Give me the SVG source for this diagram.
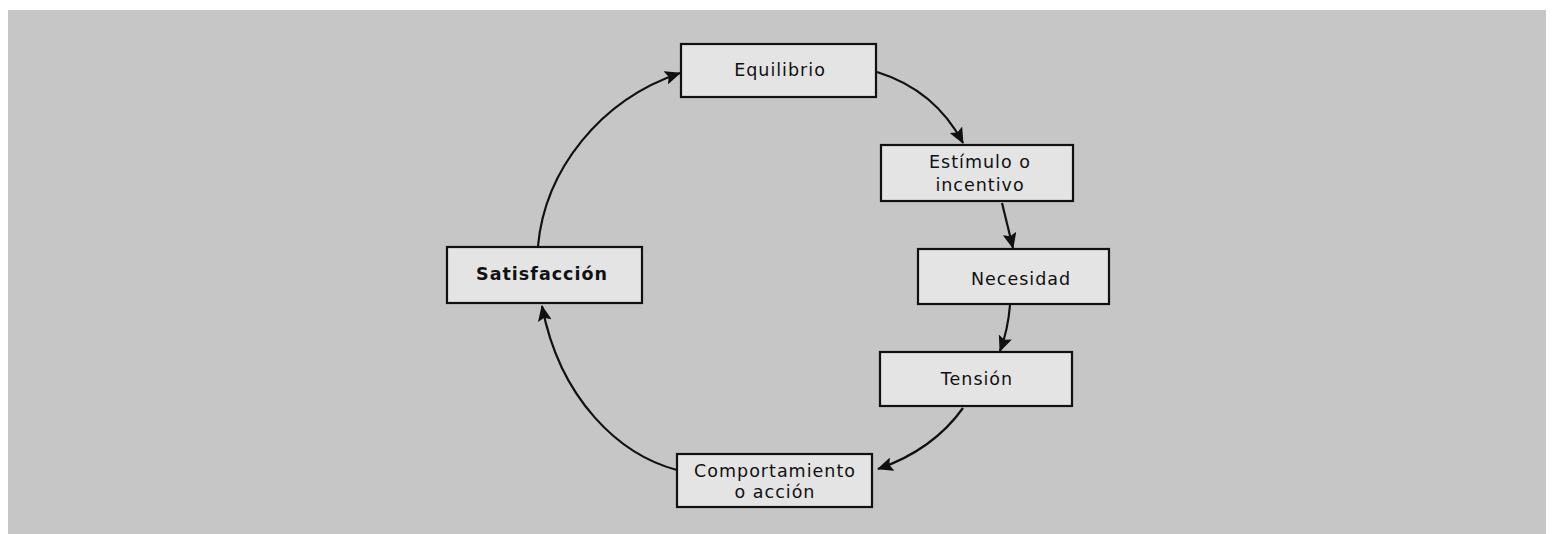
<svg xmlns="http://www.w3.org/2000/svg" width="1552" height="534" viewBox="0 0 1552 534">
<style>
.box{fill:#e4e4e4;stroke:#111;stroke-width:2.2}
.lbl{font-family:"DejaVu Sans","Liberation Sans",sans-serif;font-size:17.5px;fill:#111;text-anchor:middle;letter-spacing:1px}
.edge{fill:none;stroke:#111;stroke-width:2.2}
</style>
<defs>
<marker id="ah" viewBox="0 0 16 14" refX="15" refY="7" markerWidth="16" markerHeight="14" markerUnits="userSpaceOnUse" orient="auto">
<path d="M0,0 L16,7 L0,14 L3,7 z" fill="#111"/>
</marker>
</defs>
<rect x="0" y="0" width="1552" height="534" fill="#ffffff"/>
<rect x="8" y="10" width="1538" height="524" fill="#c6c6c6"/>
<g id="connectors">
<path class="edge" d="M877,72 Q935,90 963,143" marker-end="url(#ah)"/>
<path class="edge" d="M1002,203 L1013,248" marker-end="url(#ah)"/>
<path class="edge" d="M1010,305 Q1008,330 1000,351" marker-end="url(#ah)"/>
<path class="edge" d="M963,408 Q933,450 878,469" marker-end="url(#ah)"/>
<path class="edge" d="M677,470 C620,455 560,400 542,306" marker-end="url(#ah)"/>
<path class="edge" d="M538,246 C545,170 600,100 680,73" marker-end="url(#ah)"/>
</g>
<g id="equilibrio">
<rect class="box" x="681" y="44" width="195" height="53"/>
<text class="lbl" x="780" y="76">Equilibrio</text>
</g>
<g id="estimulo">
<rect class="box" x="881" y="145" width="192" height="56"/>
<text class="lbl" x="980" y="168">Estímulo o</text>
<text class="lbl" x="980" y="191">incentivo</text>
</g>
<g id="necesidad">
<rect class="box" x="918" y="249" width="191" height="55"/>
<text class="lbl" x="1021" y="285">Necesidad</text>
</g>
<g id="tension">
<rect class="box" x="880" y="352" width="192" height="54"/>
<text class="lbl" x="977" y="385">Tensión</text>
</g>
<g id="comportamiento">
<rect class="box" x="677" y="454" width="195" height="53"/>
<text class="lbl" x="775" y="477">Comportamiento</text>
<text class="lbl" x="775" y="498">o acción</text>
</g>
<g id="satisfaccion">
<rect class="box" x="447" y="247" width="195" height="56"/>
<text class="lbl" x="542" y="280" font-weight="bold" letter-spacing="0.8px">Satisfacción</text>
</g>
</svg>
